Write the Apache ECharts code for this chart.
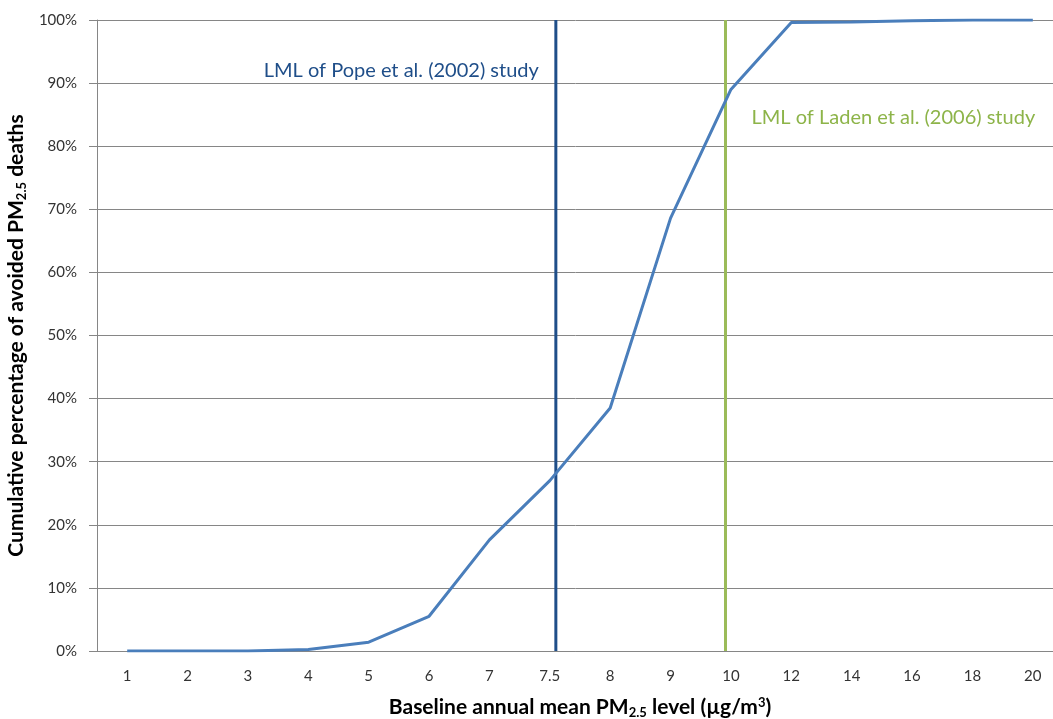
<!DOCTYPE html>
<html>
<head>
<meta charset="utf-8">
<script src="https://cdn.jsdelivr.net/npm/echarts@6/dist/echarts.min.js"></script>
<style>
  html, body { margin: 0; padding: 0; background: #fff; }
  #chart { width: 1053px; height: 719px; }
</style>
</head>
<body>
<div id="chart"></div>
<script>
// baseline annual mean PM2.5 levels (categories)
var levels = ['1', '2', '3', '4', '5', '6', '7', '7.5', '8', '9', '10', '12', '14', '16', '18', '20'];
// cumulative % of avoided deaths
var cumPct = [0, 0, 0, 0.25, 1.4, 5.5, 17.6, 27.0, 38.5, 68.6, 89, 99.6, 99.7, 99.9, 100, 100];
// lowest measured levels of the two studies, as position along the category slots
// (slot i spans i..i+1, so '7.5' is centred at 7.5 and '10' at 10.5; the drawn lines sit a little off-centre)
var lmlPos = [7.6, 10.41];
var lmlNames = ['LML of Pope et al. (2002) study', 'LML of Laden et al. (2006) study'];
var lmlColors = ['#1f4e89', '#9bbb59'];
var lmlLabelY = [92, 84.6];

var font = 'Lato';
var chart = echarts.init(document.getElementById('chart'));

var option = {
    backgroundColor: '#fff',
    animation: false,
    grid: { left: 97, right: -10, top: 20, bottom: 68, containLabel: false, outerBoundsMode: 'none' },
    xAxis: [{
        type: 'category',
        data: levels,
        boundaryGap: true,
        name: '{n|Baseline annual mean PM}{sub|2.5}{n| level (µg/m}{sup|3}{n|)}',
        nameLocation: 'middle',
        nameGap: 45,
        nameTextStyle: {
            rich: {
                n: { fontFamily: font, fontSize: 21, fontWeight: 'bold', color: '#000' },
                sub: { fontFamily: font, fontSize: 13, fontWeight: 'bold', color: '#000', verticalAlign: 'bottom', padding: [10, 0, 0, 0] },
                sup: { fontFamily: font, fontSize: 13, fontWeight: 'bold', color: '#000', verticalAlign: 'top', padding: [0, 0, 9, 0] }
            }
        },
        axisLine: { lineStyle: { color: '#868686', width: 1 } },
        axisTick: { length: 6, lineStyle: { color: '#868686' } },
        axisLabel: { margin: 18, fontFamily: font, fontSize: 15, color: '#333' },
        splitLine: { show: false }
    }, {
        // hidden helper axis over the same slots, used to place the LML lines
        type: 'value',
        min: 0,
        max: levels.length,
        show: false
    }],
    yAxis: {
        type: 'value',
        min: 0,
        max: 100,
        interval: 10,
        name: '{n|Cumulative percentage of avoided PM}{sub|2.5}{n| deaths}',
        nameLocation: 'middle',
        nameGap: 64,
        nameTextStyle: {
            rich: {
                n: { fontFamily: font, fontSize: 21, fontWeight: 'bold', color: '#000' },
                sub: { fontFamily: font, fontSize: 13, fontWeight: 'bold', color: '#000', verticalAlign: 'bottom', padding: [10, 0, 0, 0] }
            }
        },
        axisLine: { show: true, lineStyle: { color: '#868686', width: 1 } },
        axisTick: { show: true, length: 8, lineStyle: { color: '#868686' } },
        axisLabel: { margin: 20, fontFamily: font, fontSize: 15, color: '#333', formatter: '{value}%' },
        splitLine: { lineStyle: { color: '#868686', width: 1 } }
    },
    series: [
        {
            name: 'cumulative',
            type: 'line',
            data: cumPct,
            symbol: 'none',
            lineStyle: { color: '#4a7ebb', width: 3 },
            z: 3
        },
        {
            name: 'Pope LML',
            type: 'line',
            xAxisIndex: 1,
            data: [[lmlPos[0], 0], [lmlPos[0], 100]],
            symbol: 'none',
            lineStyle: { color: lmlColors[0], width: 3 },
            z: 2,
            markPoint: {
                silent: true,
                symbol: 'circle',
                symbolSize: 0,
                data: [{ coord: [lmlPos[0], lmlLabelY[0]], value: 0,
                         label: { show: true, position: 'left', distance: 17, formatter: lmlNames[0],
                                  fontFamily: font, fontSize: 20, color: lmlColors[0] } }]
            }
        },
        {
            name: 'Laden LML',
            type: 'line',
            xAxisIndex: 1,
            data: [[lmlPos[1], 0], [lmlPos[1], 100]],
            symbol: 'none',
            lineStyle: { color: lmlColors[1], width: 3 },
            z: 2,
            markPoint: {
                silent: true,
                symbol: 'circle',
                symbolSize: 0,
                data: [{ coord: [lmlPos[1], lmlLabelY[1]], value: 0,
                         label: { show: true, position: 'right', distance: 26, formatter: lmlNames[1],
                                  fontFamily: font, fontSize: 20, color: '#8db449' } }]
            }
        }
    ]
};

chart.setOption(option);
</script>
</body>
</html>
